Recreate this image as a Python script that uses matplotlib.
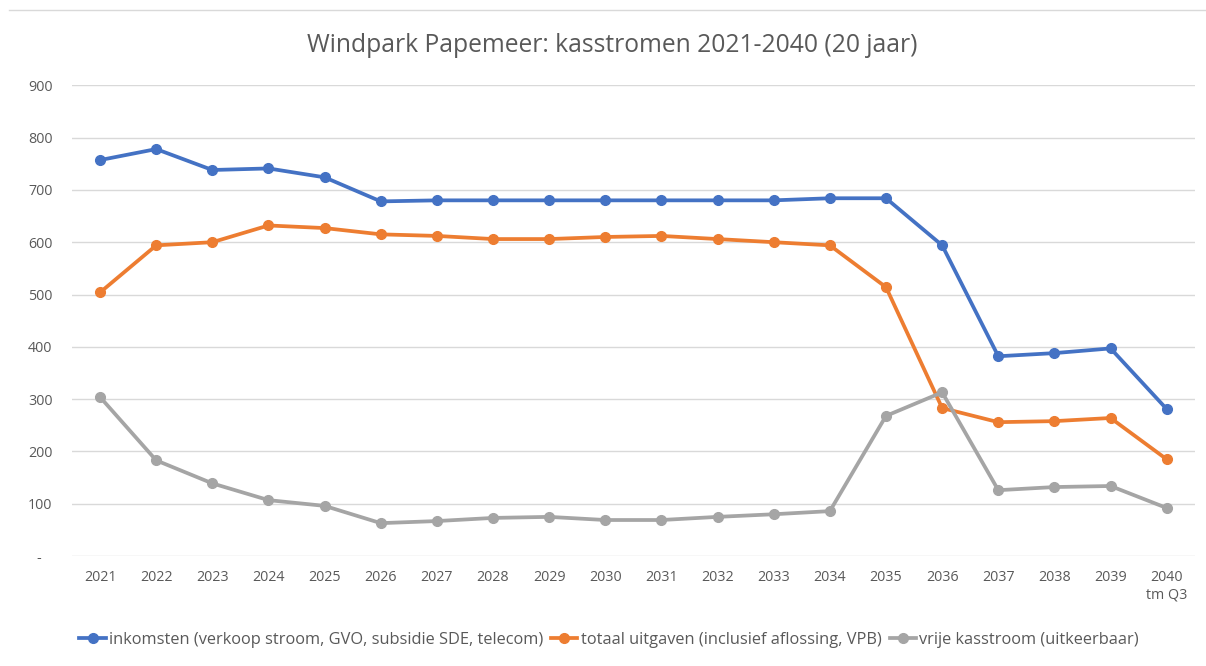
import matplotlib
matplotlib.use("Agg")
import matplotlib.pyplot as plt
from matplotlib.lines import Line2D

years = ["2021", "2022", "2023", "2024", "2025", "2026", "2027", "2028", "2029", "2030",
         "2031", "2032", "2033", "2034", "2035", "2036", "2037", "2038", "2039", "2040\ntm Q3"]
inkomsten = [757, 778, 738, 741, 724, 678, 680, 680, 680, 680,
             680, 680, 680, 684, 684, 594, 382, 388, 397, 281]
uitgaven = [504, 594, 600, 632, 627, 615, 612, 606, 606, 610,
            612, 606, 600, 594, 514, 283, 256, 258, 264, 185]
vrij = [304, 183, 139, 107, 96, 63, 67, 73, 75, 69,
        69, 75, 80, 86, 268, 313, 126, 132, 134, 92]
series_labels = ["inkomsten (verkoop stroom, GVO, subsidie SDE, telecom)",
                 "totaal uitgaven (inclusief aflossing, VPB)",
                 "vrije kasstroom (uitkeerbaar)"]
colors = ["#4472C4", "#ED7D31", "#A5A5A5"]
yticks = [0, 100, 200, 300, 400, 500, 600, 700, 800, 900]
ytick_labels = ["-   ", "100", "200", "300", "400", "500", "600", "700", "800", "900"]
title = "Windpark Papemeer: kasstromen 2021-2040 (20 jaar)"

plt.rcParams['font.family'] = ['Open Sans', 'DejaVu Sans']
fig = plt.figure(figsize=(12.06, 6.66), dpi=100)
ax = fig.add_axes([0.0597, 0.165, 0.931, 0.707])

x = list(range(len(years)))
for vals, lab, c in zip([inkomsten, uitgaven, vrij], series_labels, colors):
    ax.plot(x, vals, color=c, lw=2.7, marker='o', ms=7, label=lab, zorder=3)

ax.set_xlim(-0.5, len(years) - 0.5)
ax.set_ylim(0, 900)
ax.set_yticks(yticks)
ax.set_yticklabels(ytick_labels)
ax.set_xticks(x)
ax.set_xticklabels(years)
ax.tick_params(axis='both', length=0, colors='#595959', labelsize=10.3)
ax.tick_params(axis='x', pad=10)
ax.tick_params(axis='y', pad=14)
ax.grid(axis='y', color='#D9D9D9', lw=1)
ax.set_axisbelow(True)
for s in ax.spines.values():
    s.set_visible(False)

fig.text(0.508, 0.932, title, ha='center', va='center', fontsize=17.7, color='#595959')

leg = fig.legend(loc='center', bbox_to_anchor=(0.505, 0.039), ncol=3, frameon=False,
                 fontsize=11.75, handlelength=1.6, handletextpad=0.2, columnspacing=0.5,
                 labelcolor='#595959')

fig.add_artist(Line2D([9 / 1206, 1.0], [1 - 10 / 666, 1 - 10 / 666],
                      transform=fig.transFigure, color='#D9D9D9', lw=1))
fig.savefig("out.png", dpi=100)
